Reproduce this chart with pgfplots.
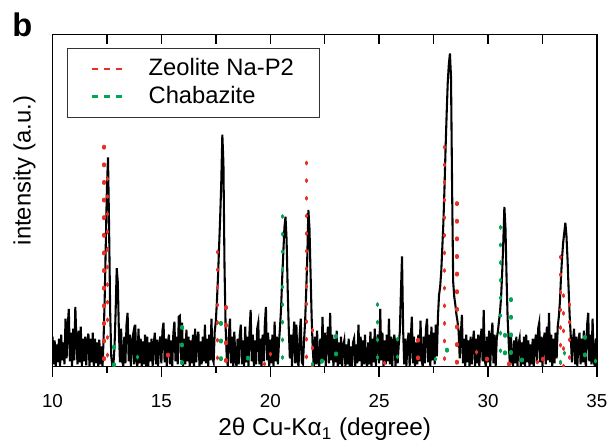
\documentclass[border=0pt]{standalone}
\usepackage{fontspec}
\setmainfont{Liberation Sans}
\usepackage{pgfplots}
\usepackage{pgfplotstable}
\pgfplotsset{compat=1.18}
\definecolor{zeored}{RGB}{232,48,38}
\definecolor{chagreen}{RGB}{0,166,81}

% measured pattern, intensity in arbitrary units
\pgfplotstableread{
x y
10.00 30
10.05 2
10.10 26
10.15 0
10.20 22
10.25 4
10.30 28
10.35 0
10.40 32
10.45 6
10.50 24
10.55 2
10.60 48
10.65 8
10.70 40
10.75 58
10.80 5
10.85 34
10.90 0
10.95 38
11.00 6
11.05 60
11.10 25
11.15 2
11.20 36
11.25 4
11.30 40
11.35 0
11.40 28
11.45 5
11.50 30
11.55 1
11.60 26
11.65 33
11.70 0
11.75 28
11.80 4
11.85 34
11.90 0
11.95 28
12.00 3
12.05 24
12.10 0
12.15 27
12.20 2
12.25 20
12.30 0
12.35 30
12.40 70
12.45 125
12.50 180
12.55 211
12.60 140
12.65 55
12.70 10
12.75 0
12.80 2
12.85 20
12.90 55
12.95 99
13.00 85
13.05 35
13.10 4
13.15 38
13.20 6
13.25 0
13.30 30
13.35 3
13.40 42
13.45 54
13.50 5
13.55 32
13.60 0
13.65 26
13.70 32
13.75 2
13.80 42
13.85 6
13.90 0
13.95 38
14.00 3
14.05 28
14.10 0
14.15 25
14.20 2
14.25 32
14.30 0
14.35 30
14.40 0
14.45 24
14.50 5
14.55 28
14.60 0
14.65 22
14.70 34
14.75 2
14.80 27
14.85 0
14.90 22
14.95 30
15.00 3
15.05 36
15.10 44
15.15 4
15.20 28
15.25 0
15.30 24
15.35 32
15.40 2
15.45 26
15.50 0
15.55 33
15.60 45
15.65 5
15.70 30
15.75 2
15.80 50
15.85 51
15.90 6
15.95 44
16.00 0
16.05 28
16.10 2
16.15 37
16.20 5
16.25 30
16.30 0
16.35 26
16.40 3
16.45 32
16.50 0
16.55 38
16.60 4
16.65 27
16.70 35
16.75 0
16.80 25
16.85 2
16.90 30
16.95 5
17.00 42
17.05 3
17.10 28
17.15 0
17.20 32
17.25 6
17.30 48
17.35 8
17.40 4
17.45 35
17.50 45
17.55 65
17.60 90
17.65 120
17.70 150
17.75 185
17.80 234
17.85 205
17.90 100
17.95 40
18.00 10
18.05 0
18.10 32
18.15 48
18.20 3
18.25 30
18.30 0
18.35 35
18.40 6
18.45 0
18.50 28
18.55 2
18.60 32
18.65 42
18.70 2
18.75 26
18.80 0
18.85 40
18.90 4
18.95 30
19.00 0
19.05 36
19.10 57
19.15 5
19.20 32
19.25 0
19.30 26
19.35 2
19.40 38
19.45 44
19.50 2
19.55 28
19.60 0
19.65 32
19.70 5
19.75 42
19.80 60
19.85 6
19.90 34
19.95 0
20.00 27
20.05 3
20.10 32
20.15 0
20.20 45
20.25 5
20.30 30
20.35 2
20.40 24
20.45 40
20.50 60
20.55 90
20.60 115
20.65 140
20.70 151
20.75 128
20.80 78
20.85 38
20.90 8
20.95 32
21.00 0
21.05 26
21.10 45
21.15 3
21.20 42
21.25 6
21.30 0
21.35 32
21.40 48
21.45 4
21.50 2
21.55 25
21.60 45
21.65 75
21.70 110
21.75 158
21.80 140
21.85 95
21.90 50
21.95 18
22.00 0
22.05 30
22.10 2
22.15 36
22.20 5
22.25 0
22.30 28
22.35 3
22.40 50
22.45 6
22.50 34
22.55 0
22.60 26
22.65 40
22.70 3
22.75 54
22.80 6
22.85 32
22.90 0
22.95 28
23.00 4
23.05 36
23.10 0
23.15 24
23.20 2
23.25 30
23.30 0
23.35 20
23.40 26
23.45 0
23.50 22
23.55 2
23.60 28
23.65 0
23.70 20
23.75 0
23.80 24
23.85 28
23.90 0
23.95 22
24.00 3
24.05 42
24.10 5
24.15 30
24.20 0
24.25 26
24.30 2
24.35 32
24.40 4
24.45 0
24.50 24
24.55 2
24.60 35
24.65 0
24.70 28
24.75 4
24.80 38
24.85 0
24.90 24
24.95 32
25.00 3
25.05 58
25.10 6
25.15 34
25.20 0
25.25 26
25.30 2
25.35 32
25.40 5
25.45 48
25.50 2
25.55 30
25.60 0
25.65 24
25.70 32
25.75 0
25.80 28
25.85 3
25.90 22
25.95 35
26.00 75
26.05 111
26.10 38
26.15 2
26.20 28
26.25 0
26.30 22
26.35 34
26.40 0
26.45 26
26.50 50
26.55 3
26.60 30
26.65 0
26.70 24
26.75 2
26.80 32
26.85 5
26.90 46
26.95 6
27.00 0
27.05 30
27.10 3
27.15 38
27.20 48
27.25 4
27.30 32
27.35 0
27.40 40
27.45 6
27.50 34
27.55 2
27.60 42
27.65 10
27.70 50
27.75 72
27.80 80
27.85 95
27.90 120
27.95 145
28.00 180
28.05 220
28.10 255
28.15 287
28.20 305
28.25 316
28.30 292
28.35 180
28.40 85
28.45 70
28.50 62
28.55 52
28.60 45
28.65 35
28.70 8
28.75 32
28.80 52
28.85 3
28.90 28
28.95 0
29.00 32
29.05 4
29.10 26
29.15 0
29.20 30
29.25 2
29.30 24
29.35 36
29.40 0
29.45 28
29.50 3
29.55 32
29.60 0
29.65 26
29.70 38
29.75 5
29.80 57
29.85 6
29.90 0
29.95 30
30.00 4
30.05 36
30.10 0
30.15 26
30.20 44
30.25 3
30.30 32
30.35 0
30.40 28
30.45 35
30.50 45
30.55 55
30.60 70
30.65 95
30.70 125
30.75 161
30.80 140
30.85 90
30.90 48
30.95 24
31.00 2
31.05 32
31.10 5
31.15 0
31.20 26
31.25 3
31.30 30
31.35 0
31.40 22
31.45 28
31.50 0
31.55 24
31.60 2
31.65 30
31.70 0
31.75 32
31.80 4
31.85 26
31.90 0
31.95 22
32.00 2
32.05 28
32.10 0
32.15 24
32.20 32
32.25 3
32.30 38
32.35 44
32.40 4
32.45 30
32.50 0
32.55 26
32.60 34
32.65 2
32.70 40
32.75 6
32.80 54
32.85 4
32.90 32
32.95 0
33.00 28
33.05 3
33.10 34
33.15 8
33.20 40
33.25 50
33.30 65
33.35 90
33.40 110
33.45 125
33.50 135
33.55 145
33.60 132
33.65 108
33.70 78
33.75 50
33.80 30
33.85 4
33.90 26
33.95 38
34.00 2
34.05 30
34.10 0
34.15 24
34.20 34
34.25 2
34.30 28
34.35 4
34.40 36
34.45 6
34.50 0
34.55 42
34.60 54
34.65 5
34.70 32
34.75 2
34.80 48
34.85 6
34.90 0
34.95 28
35.00 20
}\xrd

\begin{document}
\begin{tikzpicture}
\begin{axis}[
  name=ax,
  scale only axis, width=275pt, height=167.5pt,
  xmin=10, xmax=35, ymin=0, ymax=335,
  xtick={10,15,...,35}, minor x tick num=1, ytick=\empty,
  xtick pos=left, tick align=outside,
  major tick length=5.5pt, minor tick length=3.5pt,
  tick style={black, line width=0.75pt},
  axis line style={line width=0.75pt},
  /pgf/number format/assume math mode=true,
  tick label style={font=\fontsize{9.5}{11}\selectfont},
  xticklabel style={anchor=base, yshift=-15.5pt},
  xlabel={2θ Cu-Kα\textsubscript{1} (degree)},
  ylabel={intensity (a.u.)},
  every axis x label/.style={at={(axis description cs:0.5,0)}, anchor=base, yshift=-35pt, font=\fontsize{12.3}{14}\selectfont},
  every axis y label/.style={at={(axis description cs:0,0.59)}, xshift=-11pt, rotate=90, anchor=base, font=\fontsize{12}{14}\selectfont},
  legend style={at={(axis description cs:0.0273,0.9612)}, anchor=north west,
    draw=black!80, line width=0.5pt, inner xsep=11.5pt, inner ysep=3.5pt,
    font=\fontsize{12}{14}\selectfont,
    nodes={inner sep=1.5pt, text height=9pt, text depth=2pt},
    /tikz/every odd column/.style={column sep=11.5pt}},
  legend cell align=left,
  legend image code/.code={\draw[#1, line width=1.3pt, line cap=butt, dash pattern=on 3pt off 3pt] (0pt,0pt) -- (15pt,0pt);},
]
\addplot[black, line width=1.05pt, forget plot] table {\xrd};

\addplot[zeored, line width=1.8pt, line cap=round, dash pattern=on 0.7pt off 8.2pt, unbounded coords=jump] coordinates {
(12.37,222) (12.37,0) (12.37,nan)
(12.53,190) (12.53,0) (12.53,nan)
(15.31,12) (15.31,0) (15.31,nan)
(17.57,116) (17.57,0) (17.57,nan)
(17.96,60) (17.96,0) (17.96,nan)
(19.74,3) (19.74,0) (19.74,nan)
(20.02,13) (20.02,0) (20.02,nan)
(21.67,206) (21.67,0) (21.67,nan)
(21.93,37) (21.93,0) (21.93,nan)
(25.25,4) (25.25,0) (25.25,nan)
(26.79,27) (26.79,0) (26.79,nan)
(28.01,222) (28.01,0) (28.01,nan)
(28.57,165) (28.57,0) (28.57,nan)
(29.47,15) (29.47,0) (29.47,nan)
(29.94,8) (29.94,0) (29.94,nan)
(30.96,3) (30.96,0) (30.96,nan)
(32.27,5) (32.27,0) (32.27,nan)
(32.53,8) (32.53,0) (32.53,nan)
(33.33,111) (33.33,0) (33.33,nan)
(33.47,72) (33.47,0) (33.47,nan)
(33.74,63) (33.74,0)
};
\addlegendentry{Zeolite Na-P2}

\addplot[chagreen, line width=1.8pt, line cap=round, dash pattern=on 0.7pt off 8.2pt, unbounded coords=jump] coordinates {
(12.83,20) (12.83,0) (12.83,nan)
(13.90,10) (13.90,0) (13.90,nan)
(15.94,40) (15.94,0) (15.94,nan)
(17.73,44) (17.73,0) (17.73,nan)
(18.97,9) (18.97,0) (18.97,nan)
(20.56,152) (20.56,0) (20.56,nan)
(21.93,3) (21.93,0) (21.93,nan)
(22.37,6) (22.37,0) (22.37,nan)
(23.03,31) (23.03,0) (23.03,nan)
(24.92,63) (24.92,0) (24.92,nan)
(25.85,28) (25.85,0) (25.85,nan)
(27.59,8) (27.59,0) (27.59,nan)
(28.11,17) (28.11,0) (28.11,nan)
(30.57,141) (30.57,0) (30.57,nan)
(30.78,32) (30.78,0) (30.78,nan)
(31.05,68) (31.05,0) (31.05,nan)
(31.55,7) (31.55,0) (31.55,nan)
(33.32,5) (33.32,0) (33.32,nan)
(33.52,14) (33.52,0) (33.52,nan)
(34.45,30) (34.45,0) (34.45,nan)
(34.93,6) (34.93,0)
};
\addlegendentry{Chabazite}
\end{axis}

% top ticks point inward
\begin{axis}[
  scale only axis, width=275pt, height=167.5pt,
  xmin=10, xmax=35, ymin=0, ymax=335,
  xtick={10,15,...,35}, minor x tick num=1, ytick=\empty,
  xtick pos=right, tick align=inside, xticklabels={},
  major tick length=4.5pt, minor tick length=4.5pt,
  tick style={black, line width=0.75pt},
  axis line style={draw=none},
]
\end{axis}

\node[anchor=base west, inner sep=0pt, font=\bfseries\fontsize{16.5}{18}\selectfont] at ([xshift=-20.5pt, yshift=-1pt]ax.north west) {b};
\path ([xshift=-26.5pt, yshift=-39pt]ax.south west) rectangle ([xshift=5.5pt, yshift=17.5pt]ax.north east);
\end{tikzpicture}
\end{document}
